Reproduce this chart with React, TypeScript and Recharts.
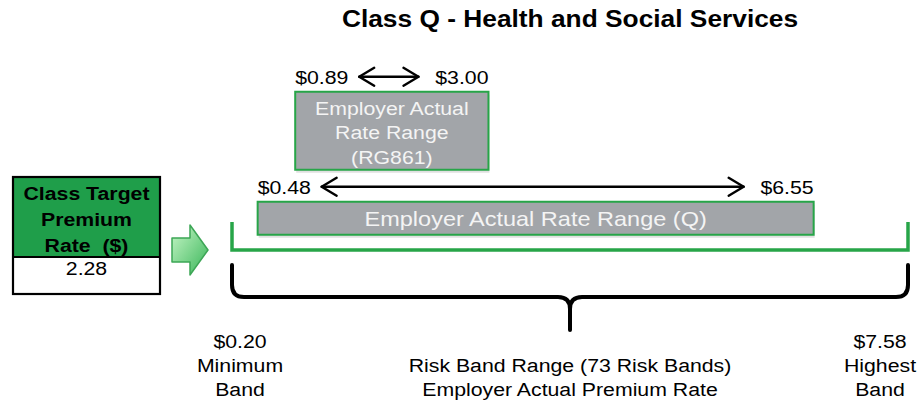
import React from "react";
import { BarChart, Bar, XAxis, YAxis, ReferenceArea } from "recharts";

// values
const title = "Class Q - Health and Social Services";
const groups = ["RG861", "Q"];
const rangeLow = [0.89, 0.48];
const rangeHigh = [3.0, 6.55];
const boxText = [
  ["Employer Actual", "Rate Range", "(RG861)"],
  ["Employer Actual Rate Range (Q)"],
];
const riskBand = [0.2, 7.58];
const riskBandCount = 73;
const bandNames = ["Minimum", "Highest"];
const targetHeader = ["Class Target", "Premium", "Rate\u00a0\u00a0($)"];
const classTarget = 2.28;

const data = groups.map((g, i) => ({
  name: g,
  range: [rangeLow[i], rangeHigh[i]],
  text: boxText[i],
}));

const FONT = "'Liberation Sans', Arial, Helvetica, sans-serif";
const STRETCH = 1.12; // the slide text is a bit wide
const GREEN = "#27a548";
const DARK_GREEN = "#1f9e4a";
const GRAY = "#a2a5a9";

const BOX: Record<string, { h: number; fs: number; lh: number; first: number }> = {
  RG861: { h: 78, fs: 19, lh: 24.5, first: 23 },
  Q: { h: 33, fs: 21, lh: 0, first: 24 },
};

const money = (v: number) => `$${v.toFixed(2)}`;

function T({ x, y, size = 19, bold = false, anchor = "middle", fill = "#000", children }: any) {
  return (
    <text
      transform={`translate(${x},${y}) scale(${STRETCH},1)`}
      fontFamily={FONT}
      fontSize={size}
      fontWeight={bold ? 700 : 400}
      textAnchor={anchor}
      fill={fill}
    >
      {children}
    </text>
  );
}

function Arrow({ x1, x2, y }: any) {
  const hx = 15;
  const hy = 9;
  return (
    <g stroke="#000" strokeWidth={2.4} fill="none" strokeLinecap="round" strokeLinejoin="round">
      <line x1={x1} y1={y} x2={x2} y2={y} />
      <polyline points={`${x1 + hx},${y - hy} ${x1},${y} ${x1 + hx},${y + hy}`} />
      <polyline points={`${x2 - hx},${y - hy} ${x2},${y} ${x2 - hx},${y + hy}`} />
    </g>
  );
}

function RangeBox(props: any) {
  const { x, y, width, height, payload } = props;
  const st = BOX[payload.name];
  const top = y + height / 2 - st.h / 2;
  const cx = x + width / 2;
  const [lo, hi] = payload.range;
  return (
    <g>
      <rect x={x + 1} y={top + 3} width={width} height={st.h} fill="#000" opacity={0.12} />
      <rect x={x} y={top} width={width} height={st.h} fill={GRAY} stroke={GREEN} strokeWidth={2} />
      {payload.text.map((line: string, i: number) => (
        <T key={i} x={cx} y={top + st.first + i * st.lh} size={st.fs} fill="#f4f4f4">
          {line}
        </T>
      ))}
      <T x={x} y={top - 8} anchor="start">{money(lo)}</T>
      <T x={x + width} y={top - 8} anchor="end">{money(hi)}</T>
      <Arrow x1={x + 64} x2={x + width - 70} y={top - 15} />
    </g>
  );
}

function BandBrace(props: any) {
  const { x, y, width, height } = props;
  const L = x;
  const R = x + width;
  const B = y + height;
  const M = x + width / 2;
  const lineY = B - 12;
  const top = B + 3;
  const hy = B + 35;
  const tip = B + 68;
  const r = 12;
  return (
    <g>
      <path
        d={`M${L},${B - 40} V${lineY} H${R} V${B - 40}`}
        fill="none"
        stroke={GREEN}
        strokeWidth={3.5}
      />
      <path
        d={`M${L},${top} V${hy - r} Q${L},${hy} ${L + r},${hy} H${M - r} Q${M},${hy} ${M},${hy + r} V${tip} M${M},${hy + r} Q${M},${hy} ${M + r},${hy} H${R - r} Q${R},${hy} ${R},${hy - r} V${top}`}
        fill="none"
        stroke="#000"
        strokeWidth={4}
        strokeLinecap="round"
      />
      <T x={L + 8} y={B + 86}>{money(riskBand[0])}</T>
      <T x={L + 8} y={B + 110}>{bandNames[0]}</T>
      <T x={L + 8} y={B + 134}>Band</T>
      <T x={M} y={B + 110}>{`Risk Band Range (${riskBandCount} Risk Bands)`}</T>
      <T x={M} y={B + 134}>Employer Actual Premium Rate</T>
      <T x={R - 28} y={B + 86}>{money(riskBand[1])}</T>
      <T x={R - 28} y={B + 110}>{bandNames[1]}</T>
      <T x={R - 28} y={B + 134}>Band</T>
    </g>
  );
}

function Overlay() {
  return (
    <svg width={922} height={405} style={{ position: "absolute", left: 0, top: 0, pointerEvents: "none" }}>
      <defs>
        <linearGradient id="greenArrow" x1="0" y1="0" x2="1" y2="1">
          <stop offset="0%" stopColor="#c8f7c8" />
          <stop offset="100%" stopColor="#38b558" />
        </linearGradient>
      </defs>
      <T x={570} y={27} size={23.5} bold>{title}</T>

      {/* class target box */}
      <rect x={13} y={177} width={147} height={80} fill={DARK_GREEN} />
      <rect x={13} y={177} width={147} height={117} fill="none" stroke="#000" strokeWidth={2.2} />
      <line x1={13} y1={257} x2={160} y2={257} stroke="#000" strokeWidth={2} />
      {targetHeader.map((t, i) => (
        <T key={t} x={86.5} y={200 + i * 26} bold>{t}</T>
      ))}
      <T x={86.5} y={275}>{classTarget.toFixed(2)}</T>

      <path
        d="M172,238 H190 V225 L208,250 L190,275 V262 H172 Z"
        fill="url(#greenArrow)"
        stroke="#3da656"
        strokeWidth={1.5}
        strokeLinejoin="round"
      />
    </svg>
  );
}

export default function App() {
  return (
    <div style={{ position: "absolute", left: 0, top: 0, width: 922, height: 405, background: "#fff" }}>
      <BarChart
        width={922}
        height={405}
        data={data}
        layout="vertical"
        margin={{ top: 87, right: 14, bottom: 143, left: 232 }}
      >
        <XAxis type="number" domain={riskBand} hide />
        <YAxis type="category" dataKey="name" hide />
        <ReferenceArea x1={riskBand[0]} x2={riskBand[1]} shape={BandBrace} />
        <Bar dataKey="range" isAnimationActive={false} shape={RangeBox} />
      </BarChart>
      <Overlay />
    </div>
  );
}
